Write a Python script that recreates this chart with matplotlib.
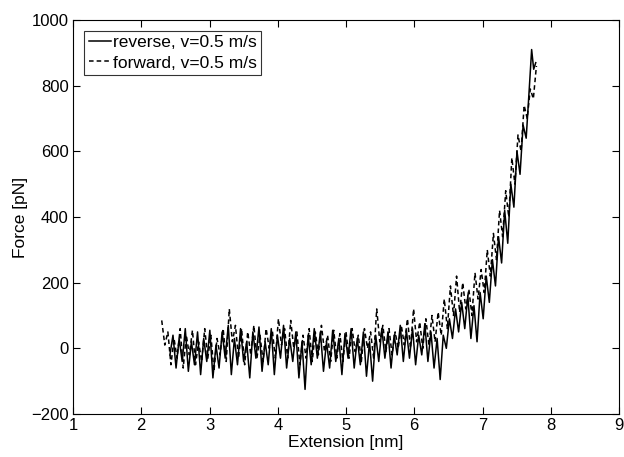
import matplotlib
matplotlib.use("Agg")
import matplotlib.pyplot as plt

plt.rcParams['font.family'] = ['Liberation Sans', 'DejaVu Sans']

# Reverse pulling (solid line)
rev_x = [2.42, 2.465, 2.51, 2.555, 2.60, 2.645, 2.69, 2.735, 2.78, 2.825, 2.87, 2.915, 2.96, 3.005, 3.05,
         3.095, 3.14, 3.185, 3.23, 3.275, 3.32, 3.365, 3.41, 3.455, 3.50, 3.545, 3.59, 3.635, 3.68, 3.725,
         3.77, 3.815, 3.86, 3.905, 3.95, 3.995, 4.04, 4.085, 4.13, 4.175, 4.22, 4.265, 4.31, 4.355, 4.40,
         4.445, 4.49, 4.535, 4.58, 4.625, 4.67, 4.715, 4.76, 4.805, 4.85, 4.895, 4.94, 4.985, 5.03, 5.075,
         5.12, 5.165, 5.21, 5.255, 5.30, 5.345, 5.39, 5.435, 5.48, 5.525, 5.57, 5.615, 5.66, 5.705, 5.75,
         5.795, 5.84, 5.885, 5.93, 5.975, 6.02, 6.065, 6.11, 6.155, 6.20, 6.245, 6.29, 6.335, 6.38,
         6.425, 6.47, 6.515, 6.56, 6.605, 6.65, 6.695, 6.74, 6.785, 6.83, 6.875, 6.92, 6.965, 7.01, 7.055,
         7.10, 7.145, 7.19, 7.235, 7.28, 7.325, 7.37, 7.415, 7.46, 7.505, 7.55, 7.595, 7.64, 7.685, 7.72,
         7.75, 7.78]
rev_f = [-20, 40, -60, 30, -40, 60, -70, 20, -50, 50,
         -80, 30, -40, 55, -90, 10, -60, 50, -30, 70,
         -80, 30, -50, 60, -40, 20, -90, 50, -30, 65,
         -70, 20, -50, 60, -80, 40, -30, 70, -60, 30,
         -40, 50, -90, 20, -125, 40, -50, 60, -30, 50,
         -70, 20, -60, 55, -40, 30, -80, 45, -30, 60,
         -60, 30, -50, 50, -85, 20, -100, 40, -40, 60,
         -30, 50, -60, 40, -20, 70, -40, 55, -30, 60,
         -50, 40, -20, 75, -40, 50, -60, 30, -95,
         40, 0, 90, 30, 120, 50, 140, 60, 160, 30, 130, 20, 170, 90, 220,
         140, 270, 190, 340, 260, 420, 320, 500, 430, 600, 530, 680, 640, 790, 910,
         850, 870]

# Forward pulling (dashed line)
fwd_x = [2.30, 2.345, 2.39, 2.435, 2.48, 2.525, 2.57, 2.615, 2.66, 2.705, 2.75, 2.795, 2.84, 2.885, 2.93,
         2.975, 3.02, 3.065, 3.11, 3.155, 3.20, 3.245, 3.29, 3.335, 3.38, 3.425, 3.47, 3.515, 3.56, 3.605,
         3.65, 3.695, 3.74, 3.785, 3.83, 3.875, 3.92, 3.965, 4.01, 4.055, 4.10, 4.145, 4.19, 4.235, 4.28,
         4.325, 4.37, 4.415, 4.46, 4.505, 4.55, 4.595, 4.64, 4.685, 4.73, 4.775, 4.82, 4.865, 4.91, 4.955,
         5.00, 5.045, 5.09, 5.135, 5.18, 5.225, 5.27, 5.315, 5.36, 5.405, 5.45, 5.495, 5.54, 5.585, 5.63,
         5.675, 5.72, 5.765, 5.81, 5.855, 5.90, 5.945, 5.99, 6.035, 6.08, 6.125, 6.17, 6.215, 6.26, 6.305,
         6.35, 6.395,
         6.44, 6.485, 6.53, 6.575, 6.62, 6.665, 6.71, 6.755, 6.80, 6.845, 6.89, 6.935, 6.98, 7.025, 7.07,
         7.115, 7.16, 7.205, 7.25, 7.295, 7.34, 7.385, 7.43, 7.475, 7.52, 7.565, 7.61, 7.655, 7.70, 7.745,
         7.79]
fwd_f = [85, 10, 50, -50, 30, -30, 60, -60, 40, -20,
         55, -50, 20, -40, 60, -30, 40, -70, 30, -20,
         60, -40, 120, 20, 70, -30, 60, -50, 50, -20,
         70, -30, 40, -40, 60, 0, 55, -30, 90, 10,
         60, -30, 85, 0, 50, -50, 40, -30, 60, -40,
         50, -20, 70, -10, 40, -40, 55, -30, 45, -40,
         50, -30, 60, -10, 40, -40, 60, 0, 50, -30,
         120, 20, 70, -10, 60, -20, 50, 0, 70, 10,
         90, 0, 120, 20, 80, 0, 90, 10, 100, 20,
         110, 40,
         150, 60, 190, 100, 220, 110, 200, 120, 180, 100, 230, 150, 240, 170, 300,
         220, 350, 270, 420, 340, 480, 400, 580, 500, 650, 600, 740, 700, 790, 760,
         860]

x_ticks = [1, 2, 3, 4, 5, 6, 7, 8, 9]
y_ticks = [-200, 0, 200, 400, 600, 800, 1000]
y_tick_labels = ['\u2212200', '0', '200', '400', '600', '800', '1000']

fig = plt.figure(figsize=(6.24, 4.57), dpi=100)
ax = fig.add_axes([73/624, 43/457, 546/624, 394/457])

ax.plot(rev_x, rev_f, color='black', lw=1.1, ls='-', label='reverse, v=0.5 m/s')
ax.plot(fwd_x, fwd_f, color='black', lw=1.1, ls=(0, (3, 2)), label='forward, v=0.5 m/s')

ax.set_xlim(1, 9)
ax.set_ylim(-200, 1000)
ax.set_xticks(x_ticks)
ax.set_yticks(y_ticks)
ax.set_yticklabels(y_tick_labels)
ax.tick_params(direction='in', length=5, width=0.8, top=True, right=True, labelsize=12, pad=3)
for s in ax.spines.values():
    s.set_linewidth(0.8)

ax.set_xlabel('Extension [nm]', fontsize=12.5, labelpad=1)
ax.set_ylabel('Force [pN]', fontsize=12.5, labelpad=2)

leg = ax.legend(loc='upper left', fontsize=12.5, frameon=True, fancybox=False,
                handlelength=1.3, handletextpad=0.1, borderpad=0.25, labelspacing=0.3,
                borderaxespad=0.5, bbox_to_anchor=(0.005, 0.995))
leg.get_frame().set_edgecolor('black')
leg.get_frame().set_linewidth(0.8)

fig.savefig('out.png', dpi=100)
